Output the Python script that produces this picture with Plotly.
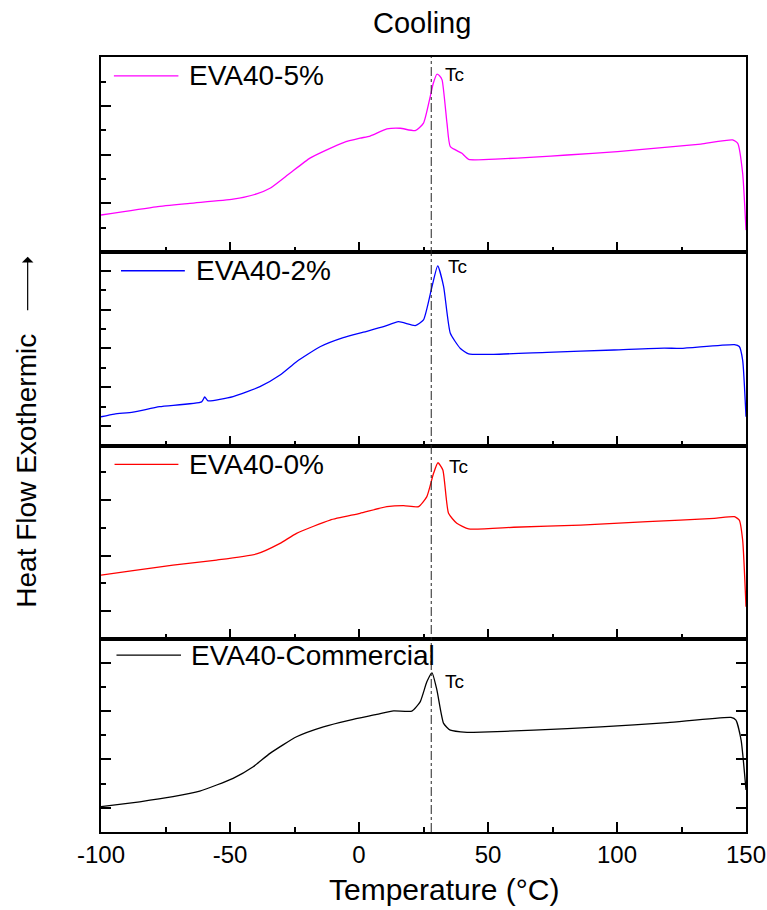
import plotly.graph_objects as go
from plotly.subplots import make_subplots

# ---------------- data ----------------
temp_5 = [-100, -78.6, -65.6, -48.8, -39.7, -34.5, -26.8, -19, -12.5, -6, 0.4, 4.3, 10.8, 16, 21.8, 25,
          27.6, 28.8, 30.2, 31.2, 32.2, 34.1, 35.4, 39.9, 42.5, 54.8, 67.8, 80.7, 100.2, 119.6, 132.5,
          144.8, 146.8, 148.7, 150]
hf_5 = [1.52, 1.86, 2.0, 2.17, 2.39, 2.62, 3.24, 3.86, 4.2, 4.5, 4.68, 4.77, 5.06, 5.09, 4.99, 5.3,
        6.39, 6.94, 7.31, 7.25, 7.08, 5.3, 4.33, 4.06, 3.81, 3.83, 3.9, 3.99, 4.13, 4.31, 4.44,
        4.61, 4.47, 3.24, 0.9]

temp_2 = [-100, -94.8, -87.6, -77.3, -61, -59.8, -58.5, -48.8, -38.4, -30.6, -24.2, -15.1, -6.1, 1.7,
          9.5, 15.3, 21.8, 25, 28.3, 30.5, 32.8, 35.4, 39.3, 42.5, 52.2, 72.9, 98.8, 118.3, 124.7,
          145.5, 147.4, 148.7, 150]
hf_2 = [1.48, 1.62, 1.72, 2.0, 2.25, 2.5, 2.3, 2.52, 3.03, 3.63, 4.32, 5.09, 5.56, 5.84,
        6.12, 6.38, 6.18, 6.47, 8.19, 9.25, 8.19, 5.78, 5.0, 4.72, 4.7, 4.8, 4.92, 5.02, 5.0,
        5.2, 5.1, 4.4, 1.48]

temp_0 = [-100, -87.6, -72.1, -55.2, -39.7, -30.6, -24.2, -11.2, 0.4, 10.8, 17.3, 23.1, 26.3, 28.9,
          30.6, 32.5, 34.7, 37.9, 42.5, 60, 85.9, 111.8, 137.7, 145.5, 147.4, 148.7, 150]
hf_0 = [2.3, 2.46, 2.66, 2.84, 3.06, 3.44, 3.8, 4.28, 4.52, 4.76, 4.8, 4.76, 5.12, 5.96,
        6.34, 6.08, 4.52, 4.16, 3.96, 4.02, 4.1, 4.22, 4.34, 4.4, 4.28, 3.56, 1.16]

temp_c = [-100, -85, -72.1, -61.7, -48.8, -41, -34.5, -24.2, -13.8, -3.5, 6.9, 13.4, 20.5, 23.7,
          26.3, 28.3, 30.2, 32.8, 35.4, 41.9, 44.4, 67.8, 93.7, 119.6, 144.2, 146.1, 148.1, 150]
hf_c = [1.05, 1.25, 1.46, 1.69, 2.22, 2.7, 3.25, 3.94, 4.35, 4.63, 4.86, 5.01, 5.0, 5.38,
        6.21, 6.58, 5.87, 4.49, 4.21, 4.12, 4.12, 4.21, 4.35, 4.52, 4.74, 4.63, 3.8, 1.74]

series_names = ["EVA40-5%", "EVA40-2%", "EVA40-0%", "EVA40-Commercial"]
series_colors = ["#ff00ff", "#0000ff", "#ff0000", "#000000"]
series_x = [temp_5, temp_2, temp_0, temp_c]
series_y = [hf_5, hf_2, hf_0, hf_c]

tc_line = 28.0
x_ticks = [-100, -50, 0, 50, 100, 150]
x_tick_labels = ["-100", "-50", "0", "50", "100", "150"]

# ---------------- layout parameters ----------------
FONT = "Liberation Sans, Arial, sans-serif"
y_ranges = [[0, 8.02], [0, 9.97], [0, 6.96], [0, 7.98]]
y_tick0 = [0, 1, 1, 1]
domains = [[0.7484, 1.0], [0.4987, 0.7484], [0.249, 0.4987], [0.0, 0.249]]
legend_pos = [  # x0, x1 of sample line, y (domain), text x
    (0.020, 0.120, 0.903, 0.133),
    (0.031, 0.130, 0.903, 0.144),
    (0.021, 0.120, 0.903, 0.134),
    (0.024, 0.124, 0.917, 0.137),
]
tc_pos = [(32.6, 7.28), (33.6, 9.23), (34.2, 6.2), (32.4, 6.22)]

fig = make_subplots(rows=4, cols=1, shared_xaxes=True, vertical_spacing=0)

for i in range(4):
    fig.add_trace(go.Scatter(x=series_x[i], y=series_y[i], mode="lines",
                             line=dict(color=series_colors[i], width=1.3, shape="spline", smoothing=0.5),
                             name=series_names[i], showlegend=False), row=i + 1, col=1)

for i in range(4):
    xa = "xaxis" if i == 0 else f"xaxis{i+1}"
    ya = "yaxis" if i == 0 else f"yaxis{i+1}"
    fig.layout[xa].update(
        range=[-100, 150], showline=True, linewidth=2, linecolor="black", mirror=True,
        ticks="inside", ticklen=10, tickwidth=2, tickcolor="black",
        tickvals=x_ticks, ticktext=x_tick_labels, showgrid=False, zeroline=False,
        minor=dict(ticks="inside", ticklen=5, tickwidth=2, tickcolor="black", dtick=25, tick0=-100),
        showticklabels=(i == 3), automargin=False,
        tickfont=dict(family=FONT, size=24, color="black"),
    )
    fig.layout[ya].update(
        range=y_ranges[i], domain=domains[i], showline=True, linewidth=2, linecolor="black",
        mirror=("ticks" if i == 3 else True), automargin=False,
        ticks="inside", ticklen=10, tickwidth=2, tickcolor="black",
        tick0=y_tick0[i], dtick=2, showticklabels=False, showgrid=False, zeroline=False,
        minor=dict(ticks="inside", ticklen=5, tickwidth=2, tickcolor="black", dtick=1, tick0=0),
    )

    xd = "x domain" if i == 0 else f"x{i+1} domain"
    yd = "y domain" if i == 0 else f"y{i+1} domain"
    lx0, lx1, ly, tx = legend_pos[i]
    fig.add_shape(type="line", xref=xd, yref=yd, x0=lx0, x1=lx1, y0=ly, y1=ly,
                  line=dict(color=series_colors[i], width=1.3))
    fig.add_annotation(xref=xd, yref=yd, x=tx, y=ly, text=series_names[i], showarrow=False,
                       xanchor="left", yanchor="middle",
                       font=dict(family=FONT, size=28, color="black"))
    xr = "x" if i == 0 else f"x{i+1}"
    yr = "y" if i == 0 else f"y{i+1}"
    fig.add_annotation(xref=xr, yref=yr, x=tc_pos[i][0], y=tc_pos[i][1], text="Tc", showarrow=False,
                       xanchor="left", yanchor="middle",
                       font=dict(family=FONT, size=19, color="black"))

# x-axis title
fig.add_annotation(xref="paper", yref="paper", x=0.532, y=-0.0748, text="Temperature (°C)",
                   showarrow=False, xanchor="center", yanchor="middle",
                   font=dict(family=FONT, size=30, color="black"))

# dash-dot Tc reference line through all panels
fig.add_shape(type="line", xref="x", yref="paper", x0=tc_line, x1=tc_line, y0=0, y1=1,
              line=dict(color="#222222", width=1, dash="dashdot"))

# title
fig.add_annotation(xref="paper", yref="paper", x=0.4977, y=1.0439, text="Cooling", showarrow=False,
                   xanchor="center", yanchor="middle", font=dict(family=FONT, size=29, color="black"))
# y title with arrow
fig.add_annotation(xref="paper", yref="paper", x=-0.115, y=0.466, text="Heat Flow Exothermic",
                   textangle=-90, showarrow=False, xanchor="center", yanchor="middle",
                   font=dict(family=FONT, size=28, color="black"))
fig.add_annotation(xref="paper", yref="paper", x=-0.1137, y=0.7423, text="", showarrow=True,
                   ax=0, ay=55, arrowhead=1, arrowsize=1.6, arrowwidth=1.2, arrowcolor="black")

fig.update_layout(width=767, height=910, margin=dict(l=101, r=21, t=57, b=78, autoexpand=False),
                  plot_bgcolor="white", paper_bgcolor="white", showlegend=False,
                  font=dict(family=FONT, color="black"))

fig.write_html("out.html")
